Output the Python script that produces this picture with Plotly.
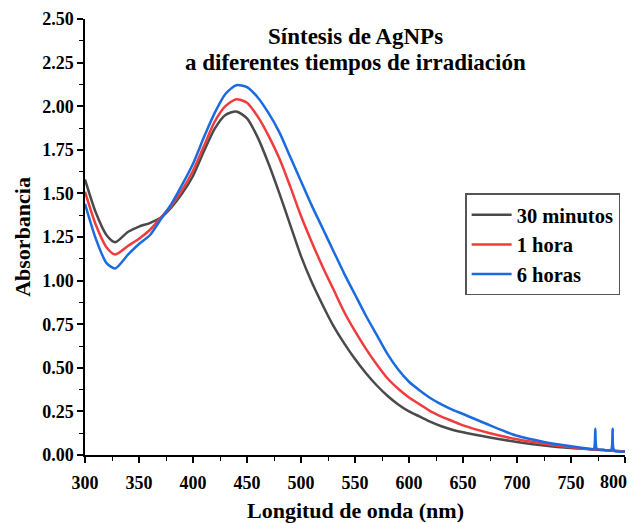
import plotly.graph_objects as go

# Wavelength (nm) and absorbance readings for each series
wl_30min = [300, 310, 320, 328, 340, 350, 360, 370, 380, 390, 400, 410, 420, 430, 440,
            450, 460, 470, 480, 490, 500, 510, 520, 530, 540, 550, 560, 570, 580, 590,
            600, 610, 620, 630, 640, 650, 675, 700, 725, 750, 775, 800]
abs_30min = [1.58, 1.39, 1.26, 1.22, 1.28, 1.31, 1.33, 1.36, 1.42, 1.50, 1.60, 1.74, 1.87, 1.95, 1.97,
             1.93, 1.82, 1.67, 1.50, 1.32, 1.14, 0.99, 0.86, 0.74, 0.64, 0.55, 0.47, 0.40, 0.34, 0.29,
             0.25, 0.22, 0.19, 0.165, 0.145, 0.13, 0.10, 0.075, 0.055, 0.04, 0.03, 0.02]

wl_1h = [300, 310, 320, 328, 340, 350, 360, 370, 380, 390, 400, 410, 420, 430, 440,
         450, 460, 470, 480, 490, 500, 510, 520, 530, 540, 550, 560, 570, 580, 590,
         600, 610, 620, 630, 640, 650, 675, 700, 725, 750, 775, 800]
abs_1h = [1.51, 1.32, 1.19, 1.15, 1.20, 1.24, 1.29, 1.36, 1.43, 1.52, 1.63, 1.77, 1.91, 2.00, 2.04,
          2.02, 1.94, 1.83, 1.70, 1.54, 1.37, 1.22, 1.08, 0.95, 0.82, 0.71, 0.61, 0.52, 0.44, 0.38,
          0.33, 0.29, 0.25, 0.22, 0.195, 0.17, 0.125, 0.09, 0.065, 0.045, 0.03, 0.02]

wl_6h = [300, 310, 320, 328, 340, 350, 360, 370, 380, 390, 400, 410, 420, 430, 440,
         450, 460, 470, 480, 490, 500, 510, 520, 530, 540, 550, 560, 570, 580, 590,
         600, 610, 620, 630, 640, 650, 675, 700, 725, 750, 765, 771, 772.5, 774, 780,
         787, 788.5, 790, 800]
abs_6h = [1.44, 1.24, 1.10, 1.07, 1.15, 1.21, 1.26, 1.35, 1.44, 1.55, 1.67, 1.82, 1.96, 2.07, 2.12,
          2.11, 2.05, 1.96, 1.85, 1.71, 1.57, 1.43, 1.30, 1.17, 1.04, 0.92, 0.80, 0.69, 0.58, 0.49,
          0.42, 0.37, 0.325, 0.29, 0.26, 0.235, 0.17, 0.11, 0.075, 0.05, 0.038, 0.035, 0.15, 0.033, 0.03,
          0.027, 0.15, 0.025, 0.02]

series_names = ["30 minutos", "1 hora", "6 horas"]
colors = ["#4a4a4a", "#f03c3c", "#1a6be0"]

x_tickvals = [300, 350, 400, 450, 500, 550, 600, 650, 700, 750, 800]
x_ticktext = ["300", "350", "400", "450", "500", "550", "600", "650", "700", "750", ""]
last_x_label = "800"

title_lines = ["Síntesis de AgNPs", "a diferentes tiempos de irradiación"]
x_title = "Longitud de onda (nm)"
y_title = "Absorbancia"

FONT = "Liberation Serif, Times New Roman, serif"

fig = go.Figure()
for name, x, y, c in zip(series_names, [wl_30min, wl_1h, wl_6h],
                         [abs_30min, abs_1h, abs_6h], colors):
    fig.add_trace(go.Scatter(x=x, y=y, name=name, mode="lines",
                             line=dict(color=c, width=2.5, shape="spline", smoothing=0.7)))

axis_common = dict(
    showline=True, linecolor="black", linewidth=1.5, mirror=False,
    ticks="outside", ticklen=6, tickwidth=1.5, tickcolor="black",
    showgrid=False, zeroline=False, automargin=False,
    tickfont=dict(family=FONT, size=18, color="black", weight="bold"),
)

fig.update_xaxes(range=[300, 800], tickvals=x_tickvals, ticktext=x_ticktext,
                 ticklabelstandoff=5,
                 minor=dict(dtick=25, tick0=300, ticks="outside", ticklen=4, tickcolor="black", tickwidth=1.2),
                 **axis_common)
fig.update_yaxes(range=[0, 2.5], dtick=0.25, tick0=0, tickformat=".2f",
                 minor=dict(dtick=0.125, tick0=0, ticks="outside", ticklen=4, tickcolor="black", tickwidth=1.2),
                 **axis_common)

# last x tick label placed as annotation (right-anchored) so it stays inside the visible page
fig.add_annotation(text=last_x_label, xref="x", yref="paper", x=800, y=-0.061,
                   xanchor="right", xshift=4, yanchor="middle", showarrow=False,
                   font=dict(family=FONT, size=18, color="black", weight="bold"))

# Figure is offset by the page's 8px body margin: plot area spans x 77..617, y 11..447 in figure px
for line_text, yc in zip(title_lines, [29, 54]):
    fig.add_annotation(text=line_text, xref="paper", yref="paper",
                       x=0.5, y=(447 - yc) / 436, xanchor="center", yanchor="middle",
                       showarrow=False,
                       font=dict(family=FONT, size=23, color="black", weight="bold"))
fig.add_annotation(text=x_title, xref="paper", yref="paper", x=0.5, y=-0.128,
                   xanchor="center", yanchor="middle", showarrow=False,
                   font=dict(family=FONT, size=22, color="black", weight="bold"))
fig.add_annotation(text=y_title, xref="paper", yref="paper", x=-0.117, y=0.5,
                   xanchor="center", yanchor="middle", textangle=-90, showarrow=False,
                   font=dict(family=FONT, size=22, color="black", weight="bold"))

fig.update_layout(
    width=630, height=515,
    margin=dict(l=77, r=13, t=11, b=68),
    plot_bgcolor="white", paper_bgcolor="white",
    showlegend=True,
    legend=dict(x=0.991, xanchor="right", y=0.6, yanchor="top",
                bgcolor="white", bordercolor="#555555", borderwidth=1.5,
                font=dict(family=FONT, size=20.5, color="black", weight="bold"),
                tracegroupgap=0, itemwidth=40),
)

fig.write_html("out.html")
